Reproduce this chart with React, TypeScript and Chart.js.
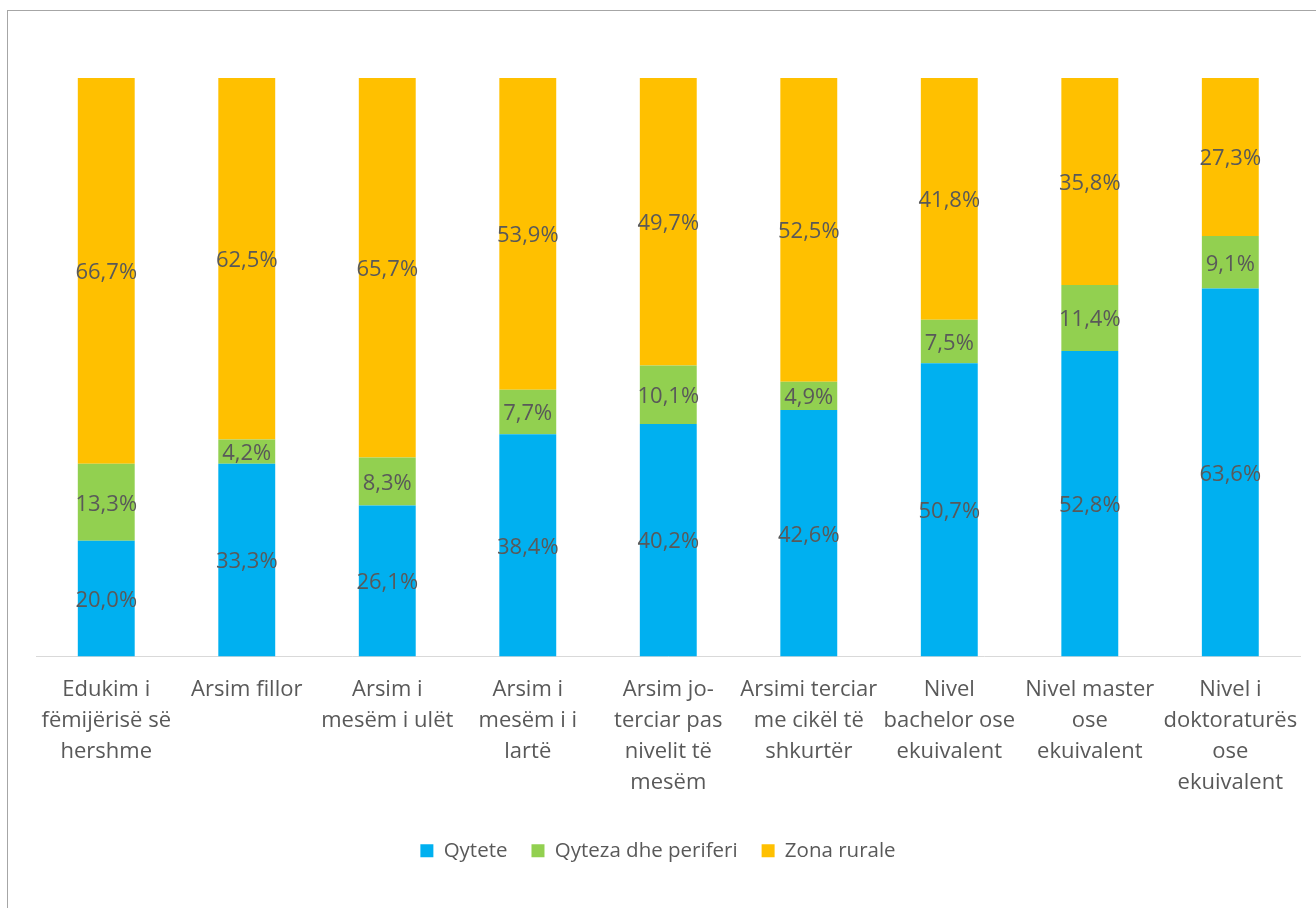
import React, { useEffect, useRef } from "react";
import { Chart, registerables } from "chart.js";

Chart.register(...registerables);

const categories: string[][] = [
  ["Edukim i", "fëmijërisë së", "hershme"],
  ["Arsim fillor"],
  ["Arsim i", "mesëm i ulët"],
  ["Arsim i", "mesëm i i", "lartë"],
  ["Arsim jo-", "terciar pas", "nivelit të", "mesëm"],
  ["Arsimi terciar", "me cikël të", "shkurtër"],
  ["Nivel", "bachelor ose", "ekuivalent"],
  ["Nivel master", "ose", "ekuivalent"],
  ["Nivel i", "doktoraturës", "ose", "ekuivalent"],
];

const qytete: number[] = [20.0, 33.3, 26.1, 38.4, 40.2, 42.6, 50.7, 52.8, 63.6];
const qyteza: number[] = [13.3, 4.2, 8.3, 7.7, 10.1, 4.9, 7.5, 11.4, 9.1];
const rurale: number[] = [66.7, 62.5, 65.7, 53.9, 49.7, 52.5, 41.8, 35.8, 27.3];

const seriesNames = ["Qytete", "Qyteza dhe periferi", "Zona rurale"];
const seriesColors = ["#00B0F0", "#92D050", "#FFC000"];

const FONT = "'Open Sans', 'Noto Sans', sans-serif";
const TEXT = "#595959";

const dataLabelPlugin = {
  id: "centerLabels",
  afterDatasetsDraw(chart: any) {
    const ctx = chart.ctx;
    ctx.save();
    ctx.font = `22px ${FONT}`;
    ctx.fillStyle = TEXT;
    ctx.textAlign = "center";
    ctx.textBaseline = "middle";
    chart.data.datasets.forEach((ds: any, di: number) => {
      const meta = chart.getDatasetMeta(di);
      meta.data.forEach((el: any, i: number) => {
        const v = ds.data[i];
        const y = (el.y + el.base) / 2 + 2;
        ctx.fillText(v.toFixed(1).replace(".", ",") + "%", el.x, y);
      });
    });
    ctx.restore();
  },
};

const spacerAxis = (position: "left" | "right", w: number) => ({
  type: "linear" as const,
  position,
  display: true,
  min: 0,
  max: 100,
  grid: { display: false, drawTicks: false },
  border: { display: false },
  ticks: { display: false },
  afterFit: (scale: any) => {
    scale.width = w;
  },
});

export default function App() {
  const ref = useRef<HTMLCanvasElement | null>(null);
  useEffect(() => {
    if (!ref.current) return;
    const chart = new Chart(ref.current, {
      type: "bar",
      data: {
        labels: categories,
        datasets: [qytete, qyteza, rurale].map((d, i) => ({
          label: seriesNames[i],
          data: d,
          backgroundColor: seriesColors[i],
          borderWidth: 0,
          barPercentage: 0.405,
          categoryPercentage: 1,
          yAxisID: "y",
        })),
      },
      options: {
        animation: false,
        responsive: false,
        maintainAspectRatio: false,
        layout: { padding: { left: 0, right: 0, top: 78, bottom: 37 } },
        plugins: {
          tooltip: { enabled: false },
          legend: {
            position: "bottom",
            labels: {
              boxWidth: 13,
              boxHeight: 13,
              padding: 24,
              color: TEXT,
              font: { family: FONT, size: 20.5 },
            },
          },
        },
        scales: {
          x: {
            stacked: true,
            grid: { display: false, drawTicks: false },
            border: { display: true, color: "#d9d9d9", width: 1 },
            ticks: {
              color: TEXT,
              padding: 18,
              maxRotation: 0,
              autoSkip: false,
              font: { family: FONT, size: 22, lineHeight: "31px" },
            },
          },
          y: { ...spacerAxis("left", 36), stacked: true },
          yRight: spacerAxis("right", 15),
        },
      },
      plugins: [dataLabelPlugin],
    });
    return () => chart.destroy();
  }, []);

  return (
    <>
      <div
        style={{
          position: "fixed",
          left: 7,
          top: 10,
          right: 0,
          bottom: 0,
          borderLeft: "1px solid #a6a6a6",
          borderTop: "1px solid #a6a6a6",
        }}
      />
      <canvas
        ref={ref}
        width={1316}
        height={908}
        style={{ position: "fixed", left: 0, top: 0, width: 1316, height: 908 }}
      />
    </>
  );
}
